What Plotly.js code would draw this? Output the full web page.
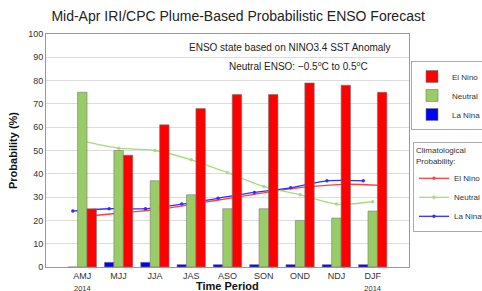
<!DOCTYPE html>
<html>
<head>
<meta charset="utf-8">
<script src="https://cdn.plot.ly/plotly-3.0.1.min.js"></script>
<style>
html,body{margin:0;padding:0;background:#fff;}
#chart{width:482px;height:291px;}
</style>
</head>
<body>
<div id="chart"></div>
<script>
// ---- data ----
const periods = ["AMJ", "MJJ", "JJA", "JAS", "ASO", "SON", "OND", "NDJ", "DJF"];
const yearLabels = ["2014", "", "", "", "", "", "", "", "2014"];
const elNino = [25, 48, 61, 68, 74, 74, 79, 78, 75];
const neutral = [75, 50, 37, 31, 25, 25, 20, 21, 24];
const laNina = [0, 2, 2, 1, 1, 1, 1, 1, 1];
const climElNino = [22, 23.5, 25, 27.5, 30, 32.5, 34.5, 35.5, 35];
const climNeutral = [54, 51, 50, 46, 40.5, 34.5, 31, 27, 28];
const climLaNina = [24, 25, 25, 27, 29.5, 32, 34, 37, 37];
const yTicks = [0, 10, 20, 30, 40, 50, 60, 70, 80, 90, 100];

// ---- styling ----
const FONT = "Liberation Sans, Arial, Helvetica, sans-serif";
const bargap = 0.22;
const bw = (1 - bargap) / 3;
const idx = periods.map((_, i) => i);
const tickText = periods.map((p, i) => yearLabels[i] ? p + "<br><span style='font-size:7.5px'>" + yearLabels[i] + "</span>" : p);

const cRed = "#ff0000", cGreen = "#99cc66", cBlue = "#0000ff";
const barLine = {color: "#777", width: 0.6};

function bar(name, vals, color) {
  return {type: "bar", name: name, x: idx, y: vals, xaxis: "x2", yaxis: "y2",
    marker: {color: color, line: barLine}, legend: "legend", hoverinfo: "skip"};
}
function clim(name, vals, color, off, rank) {
  return {type: "scatter", mode: "lines+markers", name: name,
    x: idx.map(i => i + off), y: vals,
    line: {color: color, width: 1.3, shape: "spline", smoothing: 0.8},
    marker: {color: color, size: 3.5}, legend: "legend2", legendrank: rank, hoverinfo: "skip"};
}

const traces = [
  clim("El Nino", climElNino, "#ff4040", bw, 1),
  clim("Neutral", climNeutral, "#a6dc7c", 0, 2),
  clim("La Nina", climLaNina, "#3030ff", -bw, 3),
  bar("La Nina", laNina, cBlue),
  bar("Neutral", neutral, cGreen),
  bar("El Nino", elNino, cRed)
];

const layout = {
  width: 482, height: 291,
  margin: {l: 46, r: 73, t: 34, b: 24, autoexpand: false},
  paper_bgcolor: "#fff", plot_bgcolor: "#fff",
  font: {family: FONT, size: 9, color: "#333"},
  title: {text: "Mid-Apr IRI/CPC Plume-Based Probabilistic ENSO Forecast",
    font: {family: FONT, size: 14, color: "#222"},
    x: 0.494, xref: "container", xanchor: "center", y: 1 - 16/291, yref: "container", yanchor: "middle"},
  barmode: "group", bargap: bargap, bargroupgap: 0,
  xaxis: {range: [-1, 9], tickvals: idx, ticktext: tickText, showgrid: false, zeroline: false,
    showline: true, linecolor: "#999", linewidth: 1, mirror: true, ticks: "",
    tickfont: {size: 9, color: "#333"}},
  yaxis: {range: [0, 100], tickvals: yTicks, showgrid: true, gridcolor: "#dcdcdc", gridwidth: 1,
    zeroline: false, showline: true, linecolor: "#999", linewidth: 1, mirror: true, ticks: "",
    tickfont: {size: 9, color: "#333"},
    title: {text: "<b>Probability (%)</b>", font: {size: 11, color: "#111"}, standoff: 8}},
  xaxis2: {overlaying: "x", anchor: "y2", range: [-1, 9], visible: false},
  yaxis2: {overlaying: "y", anchor: "x2", range: [0, 100], visible: false},
  showlegend: true,
  legend: {x: (411-46)/363, y: (267-61)/233, xanchor: "left", yanchor: "top",
    traceorder: "reversed", bordercolor: "#aaa", borderwidth: 1, bgcolor: "#fff",
    font: {size: 8, color: "#333"}, itemwidth: 30, tracegroupgap: 0},
  legend2: {x: (413-46)/363, y: (267-142)/233, xanchor: "left", yanchor: "top",
    bordercolor: "#aaa", borderwidth: 1, bgcolor: "#fff",
    font: {size: 8, color: "#333"}, itemwidth: 30,
    title: {text: "Climatological<br>Probability:", font: {size: 8, color: "#333"}}},
  annotations: [
    {text: "ENSO state based on NINO3.4 SST Anomaly", xref: "paper", yref: "paper",
     x: (393-46)/363, y: (267-47)/233, xanchor: "right", yanchor: "middle", showarrow: false,
     font: {size: 10, color: "#222"}},
    {text: "Neutral ENSO: \u22120.5<sup>o</sup>C to 0.5<sup>o</sup>C", xref: "paper", yref: "paper",
     x: (370-46)/363, y: (267-66)/233, xanchor: "right", yanchor: "middle", showarrow: false,
     font: {size: 10, color: "#222"}},
    {text: "<b>Time Period</b>", xref: "paper", yref: "paper",
     x: (228-46)/363, y: (267-286.3)/233, xanchor: "center", yanchor: "middle", showarrow: false,
     font: {size: 11, color: "#111"}}
  ]
};

Plotly.newPlot("chart", traces, layout, {displayModeBar: false, staticPlot: true});
</script>
</body>
</html>
